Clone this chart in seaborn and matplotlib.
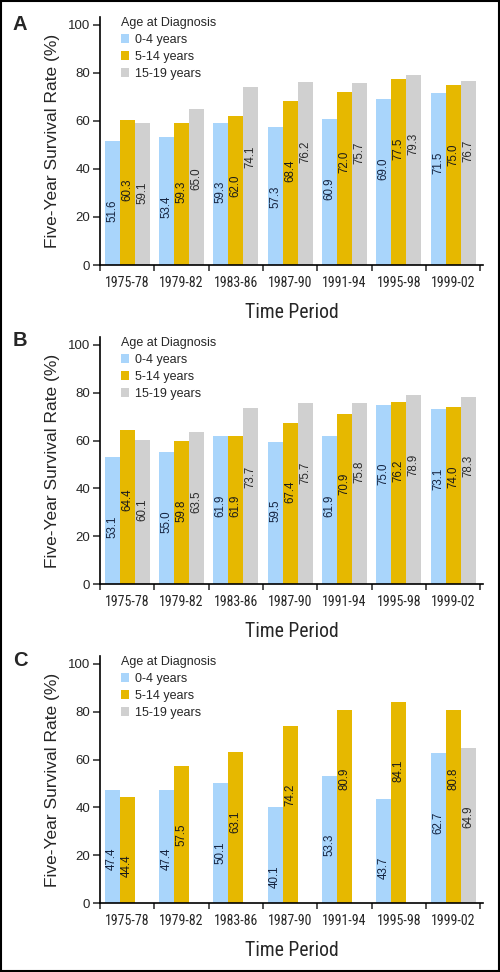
"""Five-year survival rate by period and age at diagnosis, three panels."""
import matplotlib
matplotlib.use("Agg")
import matplotlib.pyplot as plt
import numpy as np
import pandas as pd
import seaborn as sns
from matplotlib import font_manager
from matplotlib.patches import Rectangle
from matplotlib.ticker import FixedLocator

periods = ["1975-78", "1979-82", "1983-86", "1987-90", "1991-94", "1995-98", "1999-02"]
ages = ["0-4 years", "5-14 years", "15-19 years"]

# panel A
a_young = [51.6, 53.4, 59.3, 57.3, 60.9, 69.0, 71.5]
a_mid = [60.3, 59.3, 62.0, 68.4, 72.0, 77.5, 75.0]
a_old = [59.1, 65.0, 74.1, 76.2, 75.7, 79.3, 76.7]
# panel B
b_young = [53.1, 55.0, 61.9, 59.5, 61.9, 75.0, 73.1]
b_mid = [64.4, 59.8, 61.9, 67.4, 70.9, 76.2, 74.0]
b_old = [60.1, 63.5, 73.7, 75.7, 75.8, 78.9, 78.3]
# panel C (15-19 only reported for the last period)
c_young = [47.4, 47.4, 50.1, 40.1, 53.3, 43.7, 62.7]
c_mid = [44.4, 57.5, 63.1, 74.2, 80.9, 84.1, 80.8]
c_old = [np.nan, np.nan, np.nan, np.nan, np.nan, np.nan, 64.9]

panels = [("A", a_young, a_mid, a_old),
          ("B", b_young, b_mid, b_old),
          ("C", c_young, c_mid, c_old)]

colors = ["#a9d5fb", "#e6b800", "#d0d0d0"]
text_colors = ["#15233f", "#1a1a1a", "#2a2a2a"]

sns.set_style("ticks")
plt.rcParams["font.family"] = ["Liberation Sans", "DejaVu Sans"]


def have_font(name):
    try:
        font_manager.findfont(font_manager.FontProperties(family=name),
                              fallback_to_default=False)
        return True
    except ValueError:
        return False


# condensed face for the period axis if one exists, else shrink the regular one
NARROW, tick_fs, xlab_fs = ["Liberation Sans", "DejaVu Sans"], 8.4, 12.8
for cand in ["Liberation Sans Narrow", "Roboto Condensed", "Open Sans Condensed"]:
    if have_font(cand):
        NARROW, tick_fs, xlab_fs = [cand, "Liberation Sans"], 10, 14.2
        break

W, H = 500, 972
fig = plt.figure(figsize=(W / 100, H / 100), dpi=100)

# (axes top px, axes bottom px, letter y px)
boxes = [(17, 265, 24), (337, 584, 340), (656, 903, 660)]

for (letter, young, mid, old), (top, bot, ly) in zip(panels, boxes):
    ax = fig.add_axes([100 / W, 1 - bot / H, 383 / W, (bot - top) / H])
    df = pd.DataFrame({
        "period": np.repeat(periods, 3),
        "age": ages * len(periods),
        "rate": np.column_stack([young, mid, old]).ravel(),
    })
    sns.barplot(data=df, x="period", y="rate", hue="age", order=periods,
                hue_order=ages, palette=colors, width=0.83, saturation=1,
                linewidth=0, ax=ax, legend=True)

    for ci, cont in enumerate(ax.containers):
        for bar in cont:
            h = bar.get_height()
            if not np.isfinite(h) or h == 0:
                continue
            ax.text(bar.get_x() + bar.get_width() / 2, h - 29, f"{h:.1f}",
                    rotation=90, ha="center", va="center", fontsize=8.3,
                    color=text_colors[ci])

    ax.set_ylim(0, 103.3)
    ax.set_xlim(-0.5, 6.55)
    ax.set_yticks([0, 20, 40, 60, 80, 100])
    ax.tick_params(axis="y", direction="out", length=5, width=1.1, labelsize=9.5, pad=2)
    ax.tick_params(axis="x", which="major", length=0, pad=8)
    ax.xaxis.set_minor_locator(FixedLocator(np.arange(-0.5, 7, 1.0)))
    ax.tick_params(axis="x", which="minor", direction="out", length=4, width=1.1)
    for lab in ax.get_xticklabels():
        lab.set_family(NARROW)
        lab.set_fontsize(tick_fs)

    ax.set_xlabel("Time Period", family=NARROW, fontsize=xlab_fs, labelpad=9)
    ax.set_ylabel("Five-Year Survival Rate (%)", fontsize=12.5, labelpad=6)
    sns.despine(ax=ax)
    for s in ("left", "bottom"):
        ax.spines[s].set_linewidth(1.2)
        ax.spines[s].set_color("black")

    ax.legend(title="Age at Diagnosis", loc="upper left",
              bbox_to_anchor=(0.055, 1.0), frameon=False, fontsize=9,
              title_fontsize=9, handlelength=0.65, handleheight=0.65,
              handletextpad=0.45, labelspacing=0.4, borderpad=0,
              borderaxespad=0, alignment="left")

    fig.text(20 / W, 1 - ly / H, letter, fontsize=14.5, fontweight="bold",
             ha="center", va="center")

fig.patches.append(Rectangle((0.002, 0.001), 0.996, 0.998, transform=fig.transFigure,
                             fill=False, edgecolor="black", linewidth=1.5))

fig.savefig("out.png", dpi=100)
